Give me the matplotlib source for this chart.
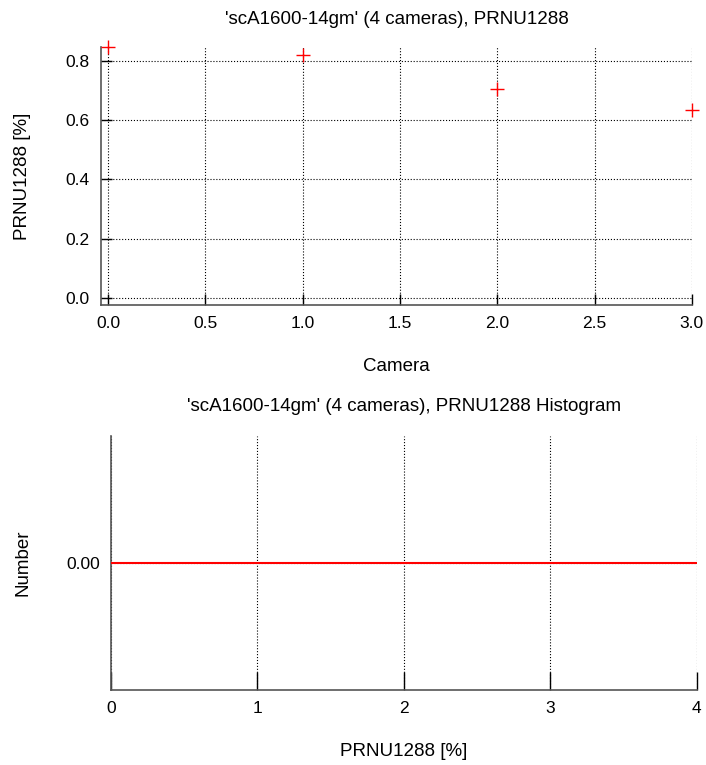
import matplotlib
matplotlib.use("Agg")
import matplotlib.pyplot as plt
import numpy as np

plt.rcParams['font.family'] = ['Liberation Sans', 'DejaVu Sans']

# data
cameras = [0, 1, 2, 3]
prnu = [0.847, 0.820, 0.706, 0.635]
hist_edges = [0, 1, 2, 3, 4]
hist_counts = [0, 0, 0, 0]
title_top = "'scA1600-14gm' (4 cameras), PRNU1288"
title_bot = "'scA1600-14gm' (4 cameras), PRNU1288 Histogram"

fig = plt.figure(figsize=(7.06, 7.65), dpi=100)
fig.set_facecolor('white')

def style(ax, ticklen):
    for s in ['top', 'right']:
        ax.spines[s].set_visible(False)
    for s in ['left', 'bottom']:
        ax.spines[s].set_color('#555555')
        ax.spines[s].set_linewidth(1.2)
    ax.tick_params(direction='in', length=ticklen, width=1.0, labelsize=12.5, pad=8)
    ax.grid(True, color='k', linestyle=':', linewidth=0.8)
    ax.set_axisbelow(True)

## top: PRNU per camera
ax1 = fig.add_axes([0.143, 0.601, 0.837, 0.338])
ax1.plot(cameras, prnu, '+', color='red', markersize=10, markeredgewidth=1.0,
         clip_on=False, zorder=3)
ax1.set_xlim(-0.036, 3.0)
ax1.set_ylim(-0.024, 0.847)
ax1.set_xticks(np.arange(0, 3.01, 0.5))
ax1.set_yticks(np.arange(0, 0.81, 0.2))
ax1.xaxis.set_major_formatter(matplotlib.ticker.FormatStrFormatter('%.1f'))
ax1.yaxis.set_major_formatter(matplotlib.ticker.FormatStrFormatter('%.1f'))
style(ax1, 8)
ax1.set_title(title_top, fontsize=13.5, pad=16)
ax1.set_xlabel('Camera', fontsize=13.5, labelpad=19)
ax1.set_ylabel('PRNU1288 [%]', fontsize=13.5, labelpad=25)

## bottom: histogram
ax2 = fig.add_axes([0.157, 0.098, 0.830, 0.332])
ax2.stairs(hist_counts, hist_edges, color='red', linewidth=1.5, zorder=3)
ax2.set_xlim(0, 4)
ax2.set_ylim(-1, 1)
ax2.set_xticks(hist_edges)
ax2.set_yticks([0])
ax2.yaxis.set_major_formatter(matplotlib.ticker.FormatStrFormatter('%.2f'))
style(ax2, 13)
ax2.tick_params(axis='y', length=0)
ax2.set_title(title_bot, fontsize=13.5, pad=18)
ax2.set_xlabel('PRNU1288 [%]', fontsize=13.5, labelpad=19)
ax2.set_ylabel('Number', fontsize=13.5, labelpad=25)

fig.savefig('out.png', dpi=100)
